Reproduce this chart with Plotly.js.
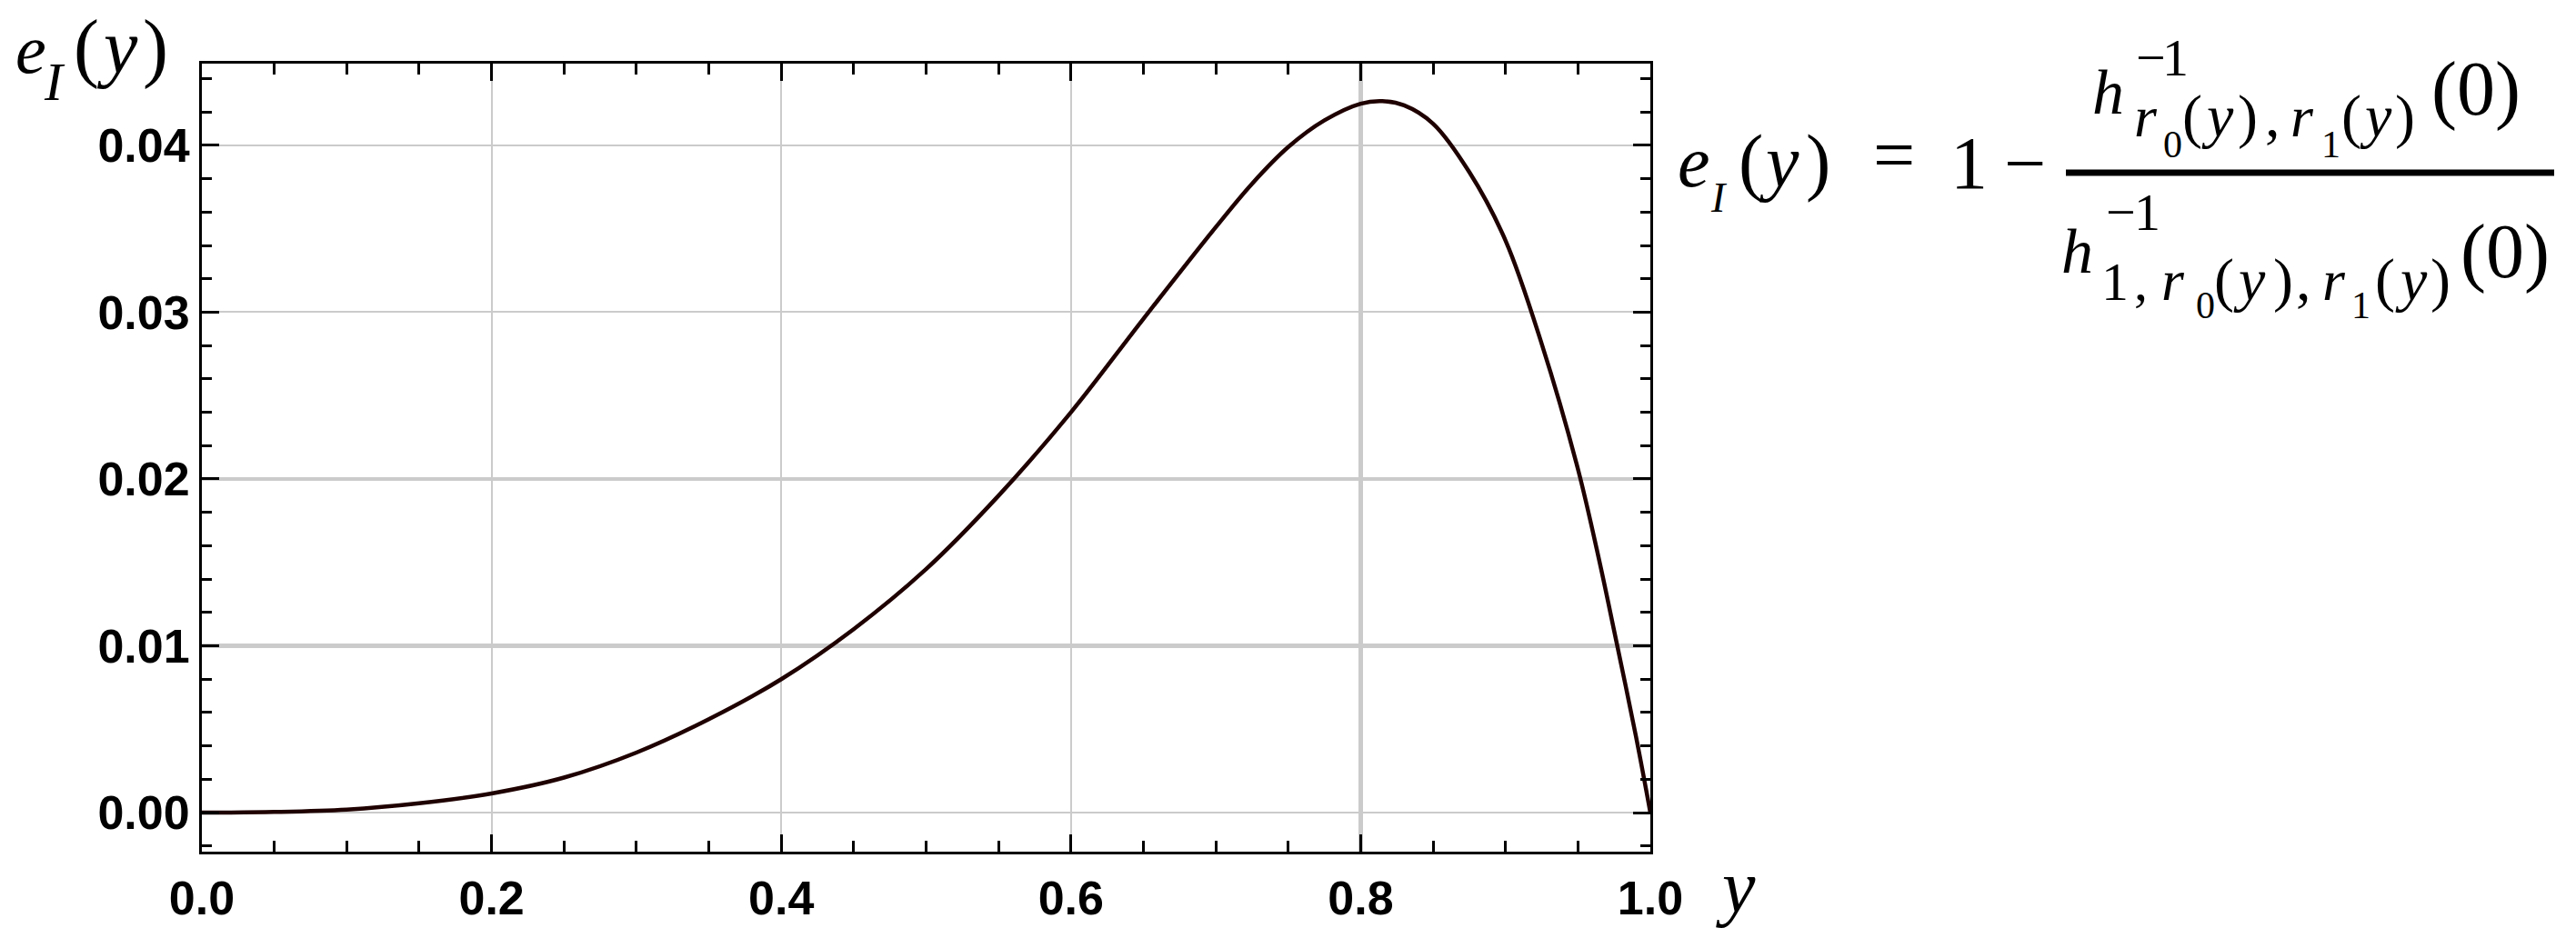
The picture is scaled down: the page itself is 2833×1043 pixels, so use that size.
<!DOCTYPE html>
<html>
<head>
<meta charset="utf-8">
<script src="https://cdn.plot.ly/plotly-3.0.1.min.js"></script>
<style>
  html, body { margin: 0; padding: 0; background: #ffffff; }
  #chart { width: 2833px; height: 1043px; }
</style>
</head>
<body>
<div id="chart"></div>
<script>
// values
const yVals = [0, 0.05, 0.1, 0.15, 0.2, 0.25, 0.3, 0.35, 0.4, 0.45, 0.5, 0.55, 0.6, 0.65, 0.7,
  0.725, 0.75, 0.775, 0.8, 0.815, 0.83, 0.85, 0.875, 0.9, 0.925, 0.95, 0.965, 0.975, 0.99, 1.0];
const eVals = [0, 0.00004, 0.00018, 0.00056, 0.00115, 0.0021, 0.0036, 0.0056, 0.008, 0.011,
  0.0146, 0.019, 0.024, 0.0296, 0.0351, 0.0377, 0.0399, 0.0415, 0.0425, 0.04265, 0.0424, 0.0413,
  0.0384, 0.0343, 0.0281, 0.0206, 0.015, 0.0109, 0.0046, 0];

const xTickVals = [0, 0.2, 0.4, 0.6, 0.8, 1.0];
const xTickText = ["0.0", "0.2", "0.4", "0.6", "0.8", "1.0"];
const yTickVals = [0, 0.01, 0.02, 0.03, 0.04];
const yTickText = ["0.00", "0.01", "0.02", "0.03", "0.04"];
const xThickGrid = [0.8];
const yThickGrid = [0.01, 0.02];

const xRange = [0, 1];
const yRange = [-0.00234, 0.0449];

// plot box in pixels
const W = 2833, H = 1043;
const plotL = 222, plotR = 1815, plotT = 70, plotB = 937;

const serif = "Liberation Serif, Times New Roman, serif";
const gridColor = "#cbcbcb";

// one glyph group placed by its left edge and baseline (pixels)
function piece(text, left, base, size) {
  return {
    text: text,
    xref: "paper",
    yref: "paper",
    x: (left - plotL) / (plotR - plotL),
    y: (plotB - (base - 0.3375 * size)) / (plotB - plotT),
    xanchor: "left",
    yanchor: "middle",
    showarrow: false,
    borderpad: 0,
    font: { family: serif, size: size, color: "#000000" },
  };
}

// [text, left, baseline, size]
const formula = [
  // y axis label e_I(y)
  ["<i>e</i>", 16, 80, 76],
  ["<i>I</i>", 47, 110, 60],
  ["(", 80, 80, 84],
  ["<i>y</i>", 105, 80, 84],
  [")", 156, 80, 84],
  // x axis label
  ["<i>y</i>", 1886, 1003, 82],

  // e_I(y) = 1 -
  ["<i>e</i>", 1844, 205, 80],
  ["<i>I</i>", 1880, 233, 46],
  ["(", 1911, 205, 82],
  ["<i>y</i>", 1934, 205, 82],
  [")", 1985, 205, 82],
  ["=", 2059, 198, 82],
  ["1", 2144, 207, 82],
  ["\u2212", 2203, 207, 82],

  // numerator
  ["<i>h</i>", 2300, 125, 70],
  ["\u2212", 2348, 83, 58],
  ["1", 2377, 83, 58],
  ["<i>r</i>", 2346, 150, 64],
  ["0", 2378, 173, 42],
  ["(", 2399, 150, 66],
  ["<i>y</i>", 2420, 150, 66],
  [")", 2460, 150, 66],
  [",", 2490, 150, 66],
  ["<i>r</i>", 2518, 150, 64],
  ["1", 2552, 173, 42],
  ["(", 2574, 150, 66],
  ["<i>y</i>", 2594, 150, 66],
  [")", 2633, 150, 66],
  ["(0)", 2673, 126, 84],

  // denominator
  ["<i>h</i>", 2266, 300, 70],
  ["\u2212", 2315, 253, 58],
  ["1", 2346, 253, 58],
  ["1", 2310, 330, 60],
  [",", 2346, 330, 60],
  ["<i>r</i>", 2376, 330, 64],
  ["0", 2414, 350, 42],
  ["(", 2434, 330, 66],
  ["<i>y</i>", 2455, 330, 66],
  [")", 2499, 330, 66],
  [",", 2524, 330, 66],
  ["<i>r</i>", 2553, 330, 64],
  ["1", 2585, 350, 42],
  ["(", 2611, 330, 66],
  ["<i>y</i>", 2633, 330, 66],
  [")", 2672, 330, 66],
  ["(0)", 2705, 305, 84],
];

const annotations = formula.map((f) => piece(f[0], f[1], f[2], f[3]));

const barY = (plotB - 190) / (plotB - plotT);
const shapes = [
  {
    type: "line",
    xref: "paper",
    yref: "paper",
    x0: (2272 - plotL) / (plotR - plotL),
    x1: (2809 - plotL) / (plotR - plotL),
    y0: barY,
    y1: barY,
    line: { color: "#000000", width: 7 },
  },
];

const tickFont = { family: "Liberation Sans, Arial, sans-serif", size: 52, color: "#000000", weight: "bold" };

const baseAxis = {
  showline: true,
  linecolor: "#000000",
  linewidth: 3,
  mirror: "ticks",
  ticks: "inside",
  ticklen: 19,
  tickwidth: 3,
  tickcolor: "#000000",
  showgrid: true,
  gridcolor: gridColor,
  gridwidth: 2,
  zeroline: false,
  tickfont: tickFont,
};

const traces = [
  {
    x: yVals,
    y: eVals,
    type: "scatter",
    mode: "lines",
    line: { color: "#1f0000", width: 4.5, shape: "spline", smoothing: 1 },
    hoverinfo: "skip",
    showlegend: false,
  },
  {
    // carries the overlay axes that hold the heavier grid lines
    x: yVals,
    y: eVals,
    xaxis: "x2",
    yaxis: "y2",
    type: "scatter",
    mode: "lines",
    line: { width: 0 },
    opacity: 0,
    hoverinfo: "skip",
    showlegend: false,
  },
];

const layout = {
  width: W,
  height: H,
  paper_bgcolor: "#ffffff",
  plot_bgcolor: "#ffffff",
  margin: { l: plotL, r: W - plotR, t: plotT, b: H - plotB, pad: 0 },
  showlegend: false,
  xaxis: Object.assign({}, baseAxis, {
    range: xRange,
    tickvals: xTickVals,
    ticktext: xTickText,
    ticklabelstandoff: 4,
    minor: { dtick: 0.05, tick0: 0, ticks: "inside", ticklen: 12, tickwidth: 3, tickcolor: "#000000", showgrid: false },
  }),
  yaxis: Object.assign({}, baseAxis, {
    range: yRange,
    tickvals: yTickVals,
    ticktext: yTickText,
    ticklabelstandoff: 0,
    minor: { dtick: 0.002, tick0: 0, ticks: "inside", ticklen: 11, tickwidth: 3, tickcolor: "#000000", showgrid: false },
  }),
  xaxis2: {
    overlaying: "x",
    anchor: "y",
    range: xRange,
    tickvals: xThickGrid,
    showticklabels: false,
    ticks: "",
    showline: false,
    zeroline: false,
    showgrid: true,
    gridcolor: gridColor,
    gridwidth: 4.5,
  },
  yaxis2: {
    overlaying: "y",
    anchor: "x",
    range: yRange,
    tickvals: yThickGrid,
    showticklabels: false,
    ticks: "",
    showline: false,
    zeroline: false,
    showgrid: true,
    gridcolor: gridColor,
    gridwidth: 4.5,
  },
  annotations: annotations,
  shapes: shapes,
};

Plotly.newPlot("chart", traces, layout, { displayModeBar: false, staticPlot: true });
</script>
</body>
</html>
